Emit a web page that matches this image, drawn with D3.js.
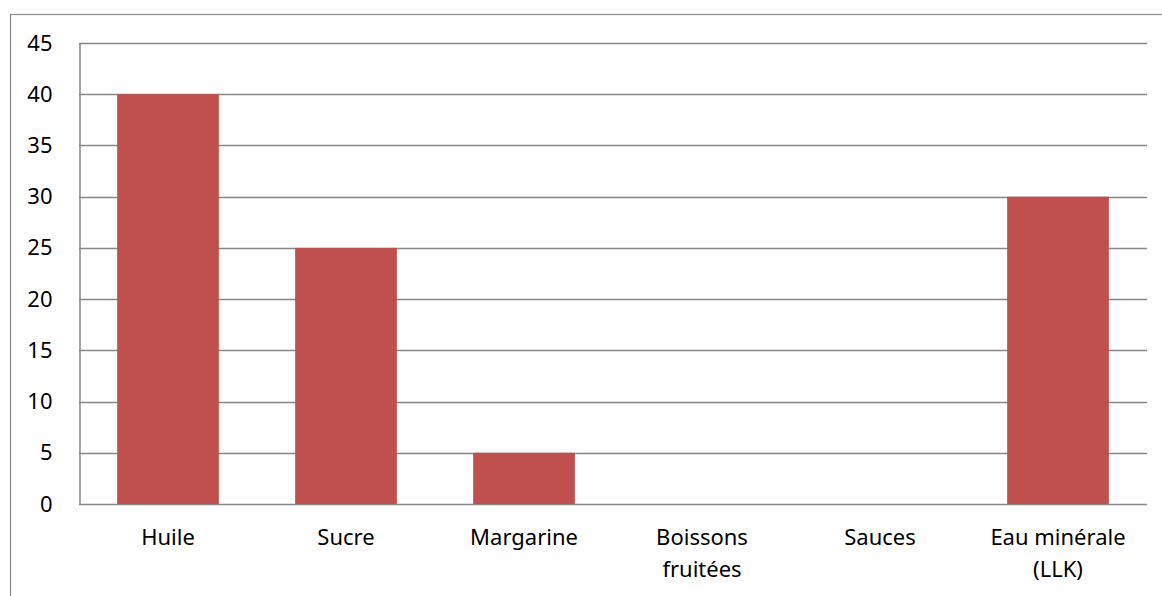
<!DOCTYPE html>
<html>
<head>
<meta charset="utf-8">
<script src="https://cdn.jsdelivr.net/npm/d3@7"></script>
<style>
  body { margin: 0; background: #fff; }
  svg text { font-family: "Noto Sans", "Open Sans", sans-serif; fill: #000; }
</style>
</head>
<body>
<div id="chart"></div>
<script>
// data
const categories = ["Huile", "Sucre", "Margarine", "Boissons\nfruitées", "Sauces", "Eau minérale\n(LLK)"];
const values = [40, 25, 5, 0, 0, 30];
const yTicks = [0, 5, 10, 15, 20, 25, 30, 35, 40, 45];

const width = 1162, height = 596;
const margin = { top: 43, right: 15, bottom: 92, left: 79 };

const svg = d3.select("#chart").append("svg")
    .attr("width", width)
    .attr("height", height);

// outer chart border (only left + top visible in the crop)
svg.append("rect")
    .attr("x", 10.5).attr("y", 14.5)
    .attr("width", width).attr("height", height)
    .attr("fill", "none")
    .attr("stroke", "#8c8c8c")
    .attr("stroke-width", 1.2);

const x = d3.scaleBand()
    .domain(categories)
    .range([margin.left, width - margin.right])
    .paddingInner(0.4286)
    .paddingOuter(0.2143);

const y = d3.scaleLinear()
    .domain([0, 45])
    .range([height - margin.bottom, margin.top]);

// gridlines
svg.append("g")
    .selectAll("line")
    .data(yTicks)
    .join("line")
    .attr("x1", margin.left)
    .attr("x2", width - margin.right)
    .attr("y1", d => Math.round(y(d)) + 0.5)
    .attr("y2", d => Math.round(y(d)) + 0.5)
    .attr("stroke", "#878787")
    .attr("stroke-width", 1.5);

// bars
svg.append("g")
    .selectAll("rect")
    .data(values)
    .join("rect")
    .attr("x", (d, i) => x(categories[i]))
    .attr("width", x.bandwidth())
    .attr("y", d => y(d))
    .attr("height", d => y(0) - y(d))
    .attr("fill", "#c0504d");

// y axis
const yAxis = svg.append("g")
    .attr("transform", `translate(${margin.left + 0.5},0)`)
    .call(d3.axisLeft(y).tickValues(yTicks).tickSize(0).tickPadding(27));
yAxis.select(".domain").attr("stroke", "#878787").attr("stroke-width", 1.5);
yAxis.selectAll("text")
    .style("font-size", "22px")
    .attr("fill", "#000");

// x axis labels (wrapped on \n)
const xLabels = svg.append("g");
categories.forEach(c => {
    const lines = c.split("\n");
    const t = xLabels.append("text")
        .attr("x", x(c) + x.bandwidth() / 2)
        .attr("y", 545)
        .attr("text-anchor", "middle")
        .style("font-size", "22px");
    lines.forEach((l, i) => {
        t.append("tspan")
            .attr("x", x(c) + x.bandwidth() / 2)
            .attr("dy", i === 0 ? 0 : 32)
            .text(l);
    });
});
</script>
</body>
</html>
